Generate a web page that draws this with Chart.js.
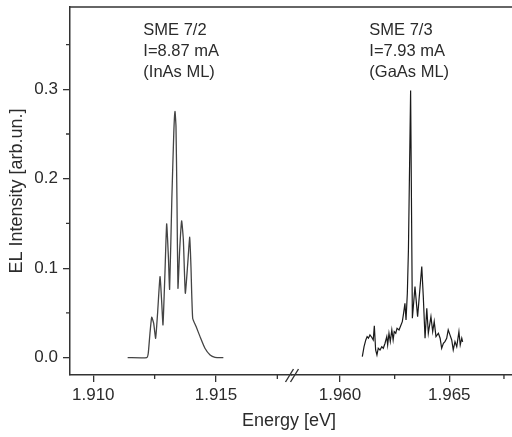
<!DOCTYPE html>
<html>
<head>
<meta charset="utf-8">
<script src="https://cdn.jsdelivr.net/npm/chart.js@4.4.0/dist/chart.umd.min.js"></script>
<style>
  html, body { margin: 0; padding: 0; background: #fff; }
  #wrap { width: 512px; height: 437px; }
</style>
</head>
<body>
<div id="wrap"><canvas id="el"></canvas></div>
<script>
// SME 7/2 (InAs ML), energy [eV] and EL intensity
const leftEnergy = [1.91140, 1.91218, 1.91224, 1.91231, 1.91238, 1.91246, 1.91254, 1.91262,
  1.91272, 1.91279, 1.91284, 1.91292, 1.91299, 1.91306, 1.91311, 1.91320, 1.91328, 1.91333,
  1.91337, 1.91341, 1.91345, 1.91352, 1.91360, 1.91367, 1.91375, 1.91385, 1.91393, 1.91398,
  1.91405, 1.91419, 1.91435, 1.91455, 1.91476, 1.91496, 1.91530];
const leftIntensity = [0, 0, 0.0049, 0.0273, 0.0452, 0.0385, 0.0217, 0.0497,
  0.0906, 0.0609, 0.0366, 0.0944, 0.1496, 0.1130, 0.0765, 0.1764, 0.2510, 0.2752,
  0.2584, 0.1764, 0.0776, 0.1205, 0.1529, 0.1317, 0.0720, 0.1056, 0.1347, 0.1018,
  0.0441, 0.0347, 0.0235, 0.0105, 0.0030, 0.0004, 0];

// SME 7/3 (GaAs ML)
const rightEnergy = [1.96102, 1.96110, 1.96118, 1.96124, 1.96130, 1.96137, 1.96145, 1.96152,
  1.96157, 1.96163, 1.96169, 1.96175, 1.96183, 1.96191, 1.96198, 1.96206, 1.96214, 1.96218,
  1.96224, 1.96230, 1.96237, 1.96243, 1.96248, 1.96255, 1.96261, 1.96270, 1.96279, 1.96285,
  1.96291, 1.96297, 1.96302, 1.96308, 1.96313, 1.96323, 1.96331, 1.96343, 1.96355, 1.96374,
  1.96381, 1.96389, 1.96397, 1.96404, 1.96416, 1.96424, 1.96431, 1.96439, 1.96450, 1.96458,
  1.96465, 1.96473, 1.96480, 1.96488, 1.96495, 1.96503, 1.96511, 1.96518, 1.96526, 1.96534,
  1.96544, 1.96550, 1.96557, 1.96561];
const rightIntensity = [0.0011, 0.0123, 0.0198, 0.0235, 0.0217, 0.0254, 0.0228, 0.0198,
  0.0355, 0.0086, 0.0030, 0.0105, 0.0086, 0.0123, 0.0105, 0.0161, 0.0235, 0.0142,
  0.0273, 0.0179, 0.0310, 0.0198, 0.0291, 0.0273, 0.0329, 0.0310, 0.0366, 0.0403,
  0.0497, 0.0608, 0.0422, 0.0720, 0.1205, 0.2987, 0.0441, 0.0794, 0.0459, 0.1018,
  0.0682, 0.0217, 0.0553, 0.0273, 0.0459, 0.0291, 0.0403, 0.0235, 0.0273, 0.0217,
  0.0105, 0.0161, 0.0179, 0.0217, 0.0310, 0.0254, 0.0198, 0.0086, 0.0179, 0.0123,
  0.0291, 0.0142, 0.0217, 0.0176];

const labelsLeft = ['SME 7/2', 'I=8.87 mA', '(InAs ML)'];
const labelsRight = ['SME 7/3', 'I=7.93 mA', '(GaAs ML)'];

const FONT = '"Liberation Sans", Arial, sans-serif';
const INK = '#2b2b2b';

const pts = (xs, ys) => xs.map((x, i) => ({ x: x, y: ys[i] }));
const isMult = (v, s) => Math.abs(v / s - Math.round(v / s)) < 1e-6;

function xAxis(min, max, weight) {
  return {
    type: 'linear', position: 'bottom', stack: 'energy', stackWeight: weight,
    min: min, max: max,
    afterFit: s => { s.height = 62; },
    border: { color: '#333', width: 1.5 },
    grid: {
      drawOnChartArea: false, tickLength: 7, lineWidth: 1.3,
      tickColor: c => (c.tick && isMult(c.tick.value, 0.005)) ? '#333' : 'rgba(0,0,0,0)'
    },
    ticks: {
      stepSize: 0.0025, includeBounds: false, maxRotation: 0, autoSkip: false, padding: 3,
      color: INK, font: { family: FONT, size: 17 },
      callback: v => isMult(v, 0.005) ? v.toFixed(3) : ''
    }
  };
}

const decor = {
  id: 'decor',
  afterDraw(chart) {
    const { ctx, chartArea: a, scales } = chart;
    ctx.save();
    ctx.strokeStyle = '#333';
    ctx.lineWidth = 1.3;
    // top frame line
    ctx.beginPath();
    ctx.moveTo(a.left, a.top);
    ctx.lineTo(a.right, a.top);
    ctx.stroke();
    // minor ticks
    ctx.beginPath();
    ['x1', 'x2'].forEach(id => {
      const s = scales[id];
      s.ticks.forEach(t => {
        if (!isMult(t.value, 0.005)) {
          const px = s.getPixelForValue(t.value);
          ctx.moveTo(px, a.bottom);
          ctx.lineTo(px, a.bottom + 4);
        }
      });
    });
    scales.y.ticks.forEach(t => {
      if (!isMult(t.value, 0.1)) {
        const py = scales.y.getPixelForValue(t.value);
        ctx.moveTo(a.left, py);
        ctx.lineTo(a.left - 4, py);
      }
    });
    ctx.stroke();
    // axis break mark
    const bx = scales.x2.left;
    ctx.lineWidth = 1.4;
    ctx.beginPath();
    ctx.moveTo(bx - 6, a.bottom + 7);
    ctx.lineTo(bx + 2, a.bottom - 6);
    ctx.moveTo(bx - 1, a.bottom + 7);
    ctx.lineTo(bx + 7, a.bottom - 6);
    ctx.stroke();
    // annotations
    ctx.fillStyle = INK;
    ctx.font = '16.5px ' + FONT;
    ctx.textBaseline = 'top';
    ctx.textAlign = 'left';
    const y0 = scales.y.getPixelForValue(0.3755);
    const xl = scales.x1.getPixelForValue(1.91204);
    const xr = scales.x2.getPixelForValue(1.96134);
    labelsLeft.forEach((t, i) => ctx.fillText(t, xl, y0 + i * 21));
    labelsRight.forEach((t, i) => ctx.fillText(t, xr, y0 + i * 21));
    // x axis title
    ctx.font = '18px ' + FONT;
    ctx.textAlign = 'center';
    ctx.textBaseline = 'middle';
    ctx.fillText('Energy [eV]', (a.left + a.right) / 2 - 2, 421);
    ctx.restore();
  }
};

new Chart(document.getElementById('el'), {
  type: 'line',
  data: {
    datasets: [
      {
        label: 'SME 7/2', xAxisID: 'x1', yAxisID: 'y',
        data: pts(leftEnergy, leftIntensity),
        borderColor: '#444', borderWidth: 1.3, pointRadius: 0, tension: 0.15
      },
      {
        label: 'SME 7/3', xAxisID: 'x2', yAxisID: 'y',
        data: pts(rightEnergy, rightIntensity),
        borderColor: '#1a1a1a', borderWidth: 1.2, pointRadius: 0, tension: 0
      }
    ]
  },
  options: {
    responsive: true,
    maintainAspectRatio: false,
    animation: false,
    layout: { padding: { left: 0, top: 0, right: 0, bottom: 0 } },
    plugins: { legend: { display: false }, tooltip: { enabled: false } },
    scales: {
      x1: xAxis(1.909051, 1.918077, 221.5),
      x2: xAxis(1.957781, 1.967868, 220.5),
      y: {
        type: 'linear', position: 'left',
        min: -0.0194, max: 0.392,
        afterFit: s => { s.width = 70; s.paddingTop = 7; },
        border: { color: '#333', width: 1.5 },
        grid: {
          drawOnChartArea: false, tickLength: 7, lineWidth: 1.3,
          tickColor: c => (c.tick && isMult(c.tick.value, 0.1)) ? '#333' : 'rgba(0,0,0,0)'
        },
        ticks: {
          stepSize: 0.05, includeBounds: false, padding: 5,
          color: INK, font: { family: FONT, size: 17 },
          callback: v => isMult(v, 0.1) ? v.toFixed(1) : ''
        },
        title: {
          display: true, text: 'EL Intensity [arb.un.]', color: INK,
          font: { family: FONT, size: 18 }, padding: { top: 6, bottom: 0 }
        }
      }
    }
  },
  plugins: [decor]
});
</script>
</body>
</html>
